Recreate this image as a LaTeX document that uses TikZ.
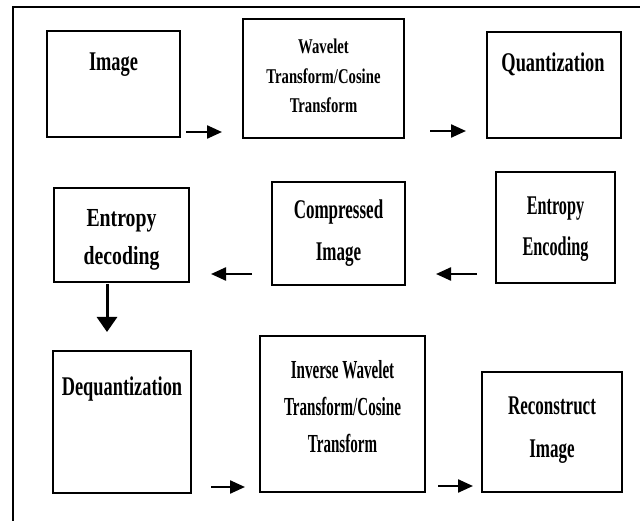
\documentclass[tikz,border=0pt]{standalone}
\usepackage{fontspec}
\setmainfont{Liberation Serif}
\newfontfamily\fA{Liberation Serif}[FakeStretch=0.68]
\newfontfamily\fB{Liberation Serif}[FakeStretch=0.70]
\newfontfamily\fC{Liberation Serif}[FakeStretch=0.76]
\newfontfamily\fD{Liberation Serif}[FakeStretch=0.63]
\newfontfamily\fE{Liberation Serif}[FakeStretch=0.60]
\newfontfamily\fF{Liberation Serif}[FakeStretch=0.58]
\usetikzlibrary{arrows.meta}
\begin{document}
\begin{tikzpicture}[x=1pt,y=-1pt,
  box/.style={draw,line width=1.6pt,inner sep=0pt},
  txt/.style={anchor=north,inner sep=0pt,align=center},
  arr/.style={line width=2.3pt,-{Triangle[length=15pt,width=13pt]}},
  darr/.style={line width=3pt,-{Triangle[length=15pt,width=20pt]}}]
\useasboundingbox (0,0) rectangle (640,521);
\draw[line width=2pt] (12.5,521) -- (12.5,6.7) -- (640,6.7);
% row 1
\node[box,minimum width=133pt,minimum height=106pt] (img) at (113.5,84) {};
\node[txt,font=\fA\bfseries\fontsize{27}{40}\selectfont] (imgt) at (113.5,53) {Image};
\node[box,minimum width=161pt,minimum height=119pt] (wav) at (323.5,78.5) {};
\node[txt,font=\fB\bfseries\fontsize{21}{29.5}\selectfont] (wavt) at (323.5,39) {Wavelet\\Transform/Cosine\\Transform};
\node[box,minimum width=134pt,minimum height=106pt] (qua) at (554,85) {};
\node[txt,font=\fA\bfseries\fontsize{27}{40}\selectfont] (quat) at (553,53) {Quantization};
% row 2
\node[box,minimum width=135pt,minimum height=94pt] (edec) at (121.5,235) {};
\node[txt,font=\fC\bfseries\fontsize{26}{38}\selectfont] (edect) at (121.5,209) {Entropy\\decoding};
\node[box,minimum width=133pt,minimum height=103pt] (comp) at (338.5,233.5) {};
\node[txt,font=\fD\bfseries\fontsize{27}{42}\selectfont] (compt) at (338.5,200) {Compressed\\Image};
\node[box,minimum width=119pt,minimum height=111pt] (eenc) at (555.5,227.5) {};
\node[txt,font=\fE\bfseries\fontsize{27}{41}\selectfont] (eenct) at (555.5,197) {Entropy\\Encoding};
% row 3
\node[box,minimum width=138pt,minimum height=142pt] (deq) at (122,422) {};
\node[txt,font=\fA\bfseries\fontsize{27}{40}\selectfont] (deqt) at (122,377) {Dequantization};
\node[box,minimum width=165pt,minimum height=156pt] (inv) at (342.5,414) {};
\node[txt,font=\fF\bfseries\fontsize{26}{37}\selectfont] (invt) at (342.5,360) {Inverse Wavelet\\Transform/Cosine\\Transform};
\node[box,minimum width=140pt,minimum height=120pt] (rec) at (552,432) {};
\node[txt,font=\fD\bfseries\fontsize{27}{43}\selectfont] (rect) at (552,397) {Reconstruct\\Image};
% arrows
\coordinate (a1s) at (186,132); \coordinate (a1e) at (222,132);
\coordinate (a2s) at (430,131); \coordinate (a2e) at (466,131);
\coordinate (a3s) at (252,274); \coordinate (a3e) at (211,274);
\coordinate (a4s) at (477,274); \coordinate (a4e) at (436,274);
\coordinate (a5s) at (107,284); \coordinate (a5e) at (107,332);
\coordinate (a6s) at (211,487); \coordinate (a6e) at (245,487);
\coordinate (a7s) at (438,486); \coordinate (a7e) at (473,486);
\draw[arr] (a1s) -- (a1e);
\draw[arr] (a2s) -- (a2e);
\draw[arr] (a3s) -- (a3e);
\draw[arr] (a4s) -- (a4e);
\draw[darr] (a5s) -- (a5e);
\draw[arr] (a6s) -- (a6e);
\draw[arr] (a7s) -- (a7e);
\end{tikzpicture}
\end{document}
